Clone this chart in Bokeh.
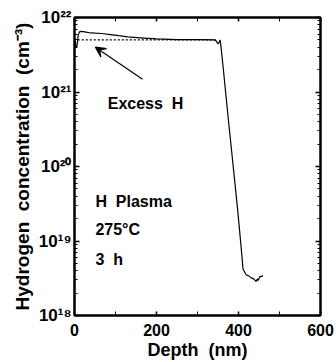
from bokeh.plotting import figure
from bokeh.models import LogAxis, LinearAxis, Arrow, VeeHead, FixedTicker, ColumnDataSource
from bokeh.core.properties import value
from bokeh.embed import file_html
from bokeh.resources import INLINE

# ---- data ----
depth_nm = [2, 3, 6, 7, 9, 12, 17, 25, 40, 66, 88, 108, 130, 169, 200, 250, 300,
            340, 345, 350, 353, 355, 357, 362, 375, 385, 398, 407, 411, 419, 425,
            431, 437, 443, 446, 448, 452, 460]
h_conc = [4.9e21, 4.1e21, 4.1e21, 4.6e21, 5.8e21, 6.4e21, 6.5e21, 6.4e21, 6.2e21,
          6.1e21, 5.9e21, 5.7e21, 5.5e21, 5.3e21, 5.15e21, 5.05e21, 5.05e21,
          5.0e21, 4.9e21, 4.4e21, 4.7e21, 5.0e21, 4.2e21, 2.3e21, 4.4e20, 1.3e20,
          2.6e19, 7.6e18, 4.2e18, 3.5e18, 3.4e18, 3.2e18, 3.1e18, 2.85e18, 3.1e18,
          2.95e18, 3.3e18, 3.4e18]
ref_depth = [8, 345]
ref_conc = [5.0e21, 5.0e21]

x_ticks = [0, 200, 400, 600]
x_minor = [100, 300, 500]
y_ticks = [1e18, 1e19, 1e20, 1e21, 1e22]
y_tick_labels = ["10¹⁸", "10¹⁹", "10²⁰", "10²¹", "10²²"]

note_x = [81, 51, 51, 51]
note_y = [7.1e20, 3.35e19, 1.41e19, 5.6e18]
note_text = ["Excess\u00a0 H", "H\u00a0 Plasma", "275°C", "3\u00a0 h"]

arrow_from = (166, 1.48e21)
arrow_to = (51, 4.0e21)

FONT = "Liberation Sans"

p = figure(width=336, height=362, x_range=(0, 600), y_range=(1e18, 1e22),
           y_axis_type="log", output_backend="svg", toolbar_location=None,
           min_border_left=74, min_border_right=16, min_border_top=17,
           min_border_bottom=46)
p.grid.visible = False
p.outline_line_color = "black"
p.outline_line_width = 2
p.background_fill_color = "white"
p.border_fill_color = "white"

y_minor = [float(k) * 10.0 ** e for e in range(18, 22) for k in range(2, 10)]
xt = FixedTicker(ticks=x_ticks, minor_ticks=x_minor)
yt = FixedTicker(ticks=y_ticks, minor_ticks=y_minor)


def style(ax):
    ax.major_tick_in = 5
    ax.major_tick_out = 0
    ax.minor_tick_in = 3
    ax.minor_tick_out = 0
    ax.axis_line_width = 2
    ax.major_tick_line_width = 1.5
    ax.minor_tick_line_width = 1
    ax.major_label_text_font = FONT
    ax.major_label_text_font_style = "bold"
    ax.major_label_text_font_size = "16px"
    ax.axis_label_text_font = FONT
    ax.axis_label_text_font_style = "bold"
    ax.axis_label_text_color = "black"
    ax.major_label_text_color = "black"


xa = p.xaxis[0]
xa.ticker = xt
style(xa)
xa.minor_tick_in = 4
xa.major_tick_in = 4
xa.major_label_standoff = 8
xa.axis_label = "Depth\u00a0 (nm)"
xa.axis_label_text_font_size = "18px"
xa.axis_label_standoff = 1

ya = p.yaxis[0]
ya.ticker = yt
style(ya)
ya.major_label_text_font_size = "17px"
ya.major_label_overrides = {t: s for t, s in zip(y_ticks, y_tick_labels)}
ya.major_label_standoff = 3
ya.axis_label = "Hydrogen\u00a0 concentration\u00a0 (cm⁻³)"
ya.axis_label_text_font_size = "19px"
ya.axis_label_standoff = 3

ra = LogAxis(ticker=yt)
style(ra)
ra.major_label_overrides = {t: "" for t in y_ticks}
ra.major_label_standoff = 0
p.add_layout(ra, "right")

ta = LinearAxis(ticker=xt)
style(ta)
ta.major_tick_in = 4
ta.minor_tick_in = 4
ta.major_label_overrides = {t: "" for t in x_ticks}
ta.major_label_standoff = 0
p.add_layout(ta, "above")

p.line(ref_depth, ref_conc, line_color="black", line_width=1.2, line_dash="2 2")
p.line(depth_nm, h_conc, line_color="black", line_width=1.2)

p.add_layout(Arrow(end=VeeHead(size=10, line_width=1.2, line_color="black"),
                   x_start=arrow_from[0], y_start=arrow_from[1],
                   x_end=arrow_to[0], y_end=arrow_to[1],
                   line_width=1.2, line_color="black"))

src = ColumnDataSource(dict(x=note_x, y=note_y, t=note_text))
p.text(x="x", y="y", text="t", source=src, text_font=value(FONT),
       text_font_style="bold", text_font_size="16px",
       text_baseline="alphabetic", text_align="left", text_color="black")

open("out.html", "w").write(file_html(p, INLINE))
